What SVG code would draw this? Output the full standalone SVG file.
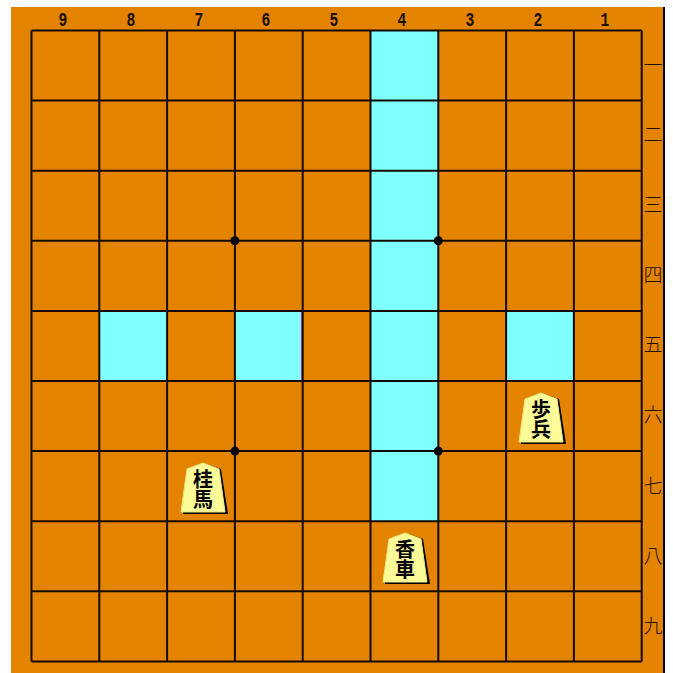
<svg xmlns="http://www.w3.org/2000/svg" width="673" height="673" viewBox="0 0 673 673">
<style>
.grid line{stroke:#140a00;stroke-width:2}
.cy{fill:#80ffff}
.num{font-family:"Liberation Mono",monospace;font-size:21px;font-weight:700;fill:#1a1000;text-anchor:middle}
.kan{font-family:"Noto Sans CJK JP",sans-serif;font-size:19px;fill:#1a1000;text-anchor:middle;font-weight:300}
.pc{font-family:"Noto Sans CJK JP",sans-serif;font-size:20px;font-weight:700;fill:#000;writing-mode:vertical-rl;text-anchor:start}
</style>
<defs>
<path id="piece" d="M0,0 L16,6 L22,49 L-22,49 L-16,6 Z"/>
<path id="shadow" d="M1,0 L18,6 L25,51 L-20,51 L-20,49 L22,49 L16,6 Z"/>
</defs>
<rect x="0" y="0" width="673" height="673" fill="#ffffff"/>
<rect x="11" y="7" width="653" height="666" fill="#e38300"/>
<line x1="664" y1="7" x2="664" y2="673" stroke="#000" stroke-width="2"/>
<g id="highlights">
<rect class="cy" x="370.5" y="30.5" width="67.8" height="490.7"/>
<rect class="cy" x="99.3" y="310.9" width="67.8" height="70.1"/>
<rect class="cy" x="234.9" y="310.9" width="67.8" height="70.1"/>
<rect class="cy" x="506.1" y="310.9" width="67.8" height="70.1"/>
<line x1="301.5" y1="312" x2="301.5" y2="380" stroke="#e040e0" stroke-width="1"/>
</g>
<g id="board" class="grid">
<line x1="31.5" y1="30.5" x2="31.5" y2="661.4"/>
<line x1="99.3" y1="30.5" x2="99.3" y2="661.4"/>
<line x1="167.1" y1="30.5" x2="167.1" y2="661.4"/>
<line x1="234.9" y1="30.5" x2="234.9" y2="661.4"/>
<line x1="302.7" y1="30.5" x2="302.7" y2="661.4"/>
<line x1="370.5" y1="30.5" x2="370.5" y2="661.4"/>
<line x1="438.3" y1="30.5" x2="438.3" y2="661.4"/>
<line x1="506.1" y1="30.5" x2="506.1" y2="661.4"/>
<line x1="573.9" y1="30.5" x2="573.9" y2="661.4"/>
<line x1="641.7" y1="30.5" x2="641.7" y2="661.4"/>
<line x1="31.5" y1="30.5" x2="641.7" y2="30.5"/>
<line x1="31.5" y1="100.6" x2="641.7" y2="100.6"/>
<line x1="31.5" y1="170.7" x2="641.7" y2="170.7"/>
<line x1="31.5" y1="240.8" x2="641.7" y2="240.8"/>
<line x1="31.5" y1="310.9" x2="641.7" y2="310.9"/>
<line x1="31.5" y1="381" x2="641.7" y2="381"/>
<line x1="31.5" y1="451.1" x2="641.7" y2="451.1"/>
<line x1="31.5" y1="521.2" x2="641.7" y2="521.2"/>
<line x1="31.5" y1="591.3" x2="641.7" y2="591.3"/>
<line x1="31.5" y1="661.4" x2="641.7" y2="661.4"/>
<circle cx="234.9" cy="240.8" r="4.5" fill="#000"/>
<circle cx="438.3" cy="240.8" r="4.5" fill="#000"/>
<circle cx="234.9" cy="451.1" r="4.5" fill="#000"/>
<circle cx="438.3" cy="451.1" r="4.5" fill="#000"/>
</g>
<g id="files">
<text class="num" transform="translate(63,26) scale(0.7,1)">9</text>
<text class="num" transform="translate(131,26) scale(0.7,1)">8</text>
<text class="num" transform="translate(199,26) scale(0.7,1)">7</text>
<text class="num" transform="translate(266,26) scale(0.7,1)">6</text>
<text class="num" transform="translate(334,26) scale(0.7,1)">5</text>
<text class="num" transform="translate(402,26) scale(0.7,1)">4</text>
<text class="num" transform="translate(470,26) scale(0.7,1)">3</text>
<text class="num" transform="translate(538,26) scale(0.7,1)">2</text>
<text class="num" transform="translate(605,26) scale(0.7,1)">1</text>
</g>
<g id="ranks">
<text class="kan" x="653" y="72">一</text>
<text class="kan" x="653" y="142">二</text>
<text class="kan" x="653" y="212">三</text>
<text class="kan" x="653" y="282">四</text>
<text class="kan" x="653" y="352">五</text>
<text class="kan" x="653" y="422">六</text>
<text class="kan" x="653" y="493">七</text>
<text class="kan" x="653" y="563">八</text>
<text class="kan" x="653" y="633">九</text>
</g>
<g id="piece-keima" transform="translate(203,463)">
<use href="#shadow" fill="#000"/>
<use href="#piece" fill="#fbfb98" stroke="#e8e880" stroke-width="1"/>
<text class="pc" x="0" y="6">桂馬</text>
</g>
<g id="piece-kyosha" transform="translate(405,533)">
<use href="#shadow" fill="#000"/>
<use href="#piece" fill="#fbfb98" stroke="#e8e880" stroke-width="1"/>
<text class="pc" x="0" y="6">香車</text>
</g>
<g id="piece-fuhyo" transform="translate(541,393)">
<use href="#shadow" fill="#000"/>
<use href="#piece" fill="#fbfb98" stroke="#e8e880" stroke-width="1"/>
<text class="pc" x="0" y="6">歩兵</text>
</g>
</svg>
